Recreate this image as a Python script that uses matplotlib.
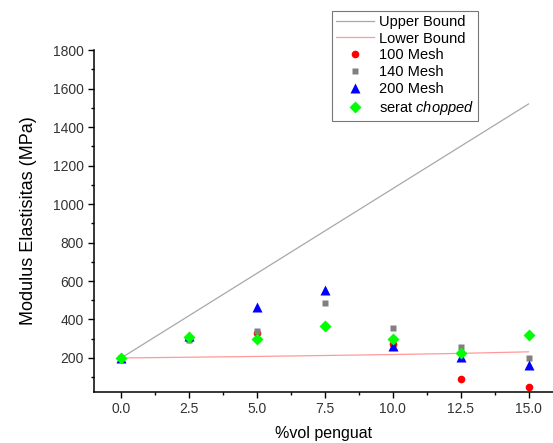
import matplotlib
matplotlib.use("Agg")
import matplotlib.pyplot as plt
from matplotlib.ticker import MultipleLocator, FormatStrFormatter

plt.rcParams["font.family"] = ["Liberation Sans", "DejaVu Sans"]
plt.rcParams["mathtext.fontset"] = "custom"
plt.rcParams["mathtext.rm"] = "Liberation Sans"
plt.rcParams["mathtext.it"] = "Liberation Sans:italic"

# Data
vol = [0.0, 2.5, 5.0, 7.5, 10.0, 12.5, 15.0]
upper_bound = [200, 420, 640, 860, 1080, 1300, 1520]
lower_bound = [200, 204, 208, 213, 218, 224, 232]
mesh_100 = [200, 300, 330, 365, 272, 90, 50]
mesh_140 = [200, 293, 340, 486, 356, 257, 200]
mesh_200 = [200, 312, 465, 555, 262, 207, 164]
chopped = [200, 309, 299, 366, 297, 226, 319]

fig = plt.figure(figsize=(5.53, 4.43), dpi=100)
ax = fig.add_axes([0.170, 0.115, 0.830, 0.772])

ax.plot(vol, upper_bound, color="#a8a8a8", lw=0.9, label="Upper Bound")
ax.plot(vol, lower_bound, color="#ff9a9a", lw=0.9, label="Lower Bound")
ax.plot(vol, mesh_100, "o", color="#ff0000", ms=5.5, mec="none", label="100 Mesh")
ax.plot(vol, mesh_140, "s", color="#808080", ms=5, mec="none", label="140 Mesh")
ax.plot(vol, mesh_200, "^", color="#0000ff", ms=6.5, mec="none", label="200 Mesh")
ax.plot(vol, chopped, "D", color="#00ff00", ms=6, mec="none",
        label="serat $\\mathit{chopped}$")

ax.set_xlim(-1.0, 15.9)
ax.set_ylim(23, 1800)
ax.spines["top"].set_visible(False)
ax.spines["right"].set_visible(False)
for s in ("left", "bottom"):
    ax.spines[s].set_linewidth(1.1)

ax.set_xticks(vol)
ax.xaxis.set_minor_locator(MultipleLocator(1.25))
ax.xaxis.set_major_formatter(FormatStrFormatter("%.1f"))
ax.set_yticks(range(200, 1801, 200))
ax.yaxis.set_minor_locator(MultipleLocator(100))
ax.tick_params(which="major", length=4, width=1.0, labelsize=10,
               labelcolor="#333333")
ax.tick_params(which="minor", length=2.5, width=1.0)

ax.set_xlabel("%vol penguat", fontsize=11.5, labelpad=7)
ax.set_ylabel("Modulus Elastisitas (MPa)", fontsize=13, labelpad=11)

leg = fig.legend(loc="upper left", bbox_to_anchor=(332 / 553, 1 - 11 / 443),
                 fontsize=10.5, frameon=True, fancybox=False,
                 edgecolor="#555555", labelspacing=0.2, handlelength=2.6,
                 borderpad=0.25, handletextpad=0.4, borderaxespad=0)
leg.get_frame().set_linewidth(0.8)

fig.savefig("out.png", dpi=100)
